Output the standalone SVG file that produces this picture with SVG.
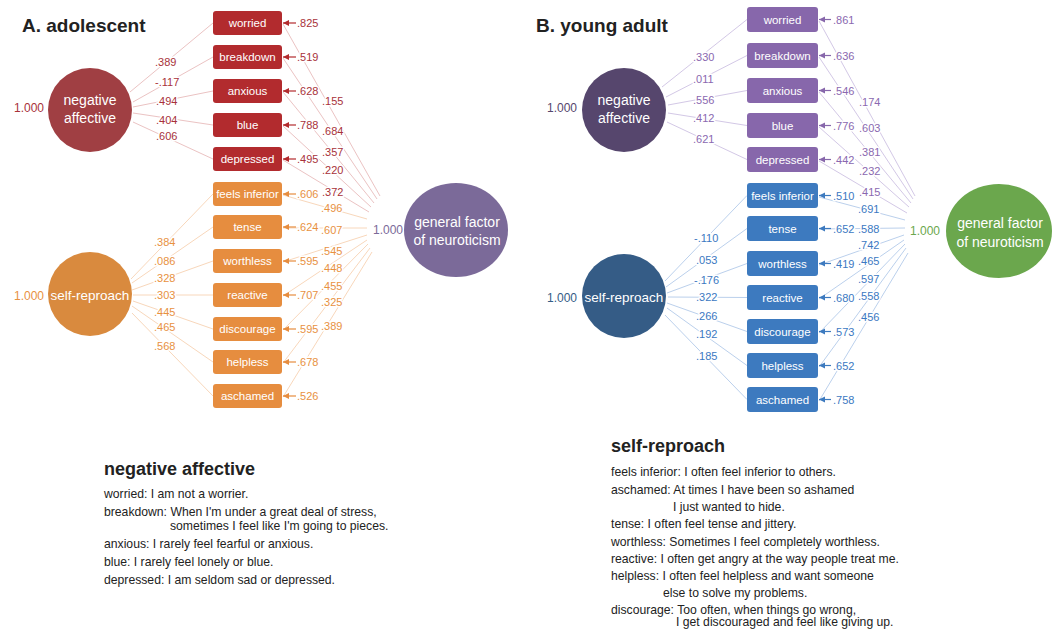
<svg xmlns="http://www.w3.org/2000/svg" width="1059" height="632" viewBox="0 0 1059 632">
<style>
text{font-family:"Liberation Sans",Arial,sans-serif}
.title{font-size:19px;font-weight:bold;fill:#222}
.h{font-size:18px;font-weight:bold;fill:#222}
.d{font-size:12.2px;fill:#222}
.bl{font-size:11.5px;fill:#fff;text-anchor:middle}
.cl{font-size:14px;fill:#fff;text-anchor:middle}
.n{font-size:11px;stroke:#fff;stroke-width:3;paint-order:stroke;stroke-linejoin:round}
.one{font-size:12px}
.lr{stroke:#ebc3c3;stroke-width:1;fill:none}
.lo{stroke:#f8d7bb;stroke-width:1;fill:none}
.lp{stroke:#d3c8e6;stroke-width:1;fill:none}
.lb{stroke:#bbd0ec;stroke-width:1;fill:none}
.ar{stroke:#b22b2e;stroke-width:1.2;marker-end:url(#mr)}
.ao{stroke:#e68d3f;stroke-width:1.2;marker-end:url(#mo)}
.ap{stroke:#8767ab;stroke-width:1.2;marker-end:url(#mp)}
.ab{stroke:#3d7abf;stroke-width:1.2;marker-end:url(#mb)}
.tr{fill:#a8323a}.to{fill:#e8913f}.tp{fill:#8a68b0}.tb{fill:#3b78c2}
.br{fill:#b22b2e}.bo{fill:#e68d3f}.bp{fill:#8767ab}.bb{fill:#3d7abf}
</style>
<defs>
<marker id="mr" markerUnits="userSpaceOnUse" markerWidth="7" markerHeight="7" refX="6" refY="3.5" orient="auto"><path d="M0,0.5 L6,3.5 L0,6.5 Z" fill="#b22b2e"/></marker>
<marker id="mo" markerUnits="userSpaceOnUse" markerWidth="7" markerHeight="7" refX="6" refY="3.5" orient="auto"><path d="M0,0.5 L6,3.5 L0,6.5 Z" fill="#e68d3f"/></marker>
<marker id="mp" markerUnits="userSpaceOnUse" markerWidth="7" markerHeight="7" refX="6" refY="3.5" orient="auto"><path d="M0,0.5 L6,3.5 L0,6.5 Z" fill="#8767ab"/></marker>
<marker id="mb" markerUnits="userSpaceOnUse" markerWidth="7" markerHeight="7" refX="6" refY="3.5" orient="auto"><path d="M0,0.5 L6,3.5 L0,6.5 Z" fill="#3d7abf"/></marker>
</defs>
<rect width="1059" height="632" fill="#fff"/>

<text class="title" x="22" y="32">A. adolescent</text>
<text class="title" x="536" y="32">B. young adult</text>

<!-- connectors -->
<g id="connectors">
<line class="lr" x1="130" y1="92" x2="213" y2="23"/>
<line class="lr" x1="133" y1="102" x2="213" y2="57"/>
<line class="lr" x1="133" y1="107" x2="213" y2="91"/>
<line class="lr" x1="133" y1="113" x2="213" y2="125"/>
<line class="lr" x1="133" y1="122" x2="213" y2="159"/>
<line class="lo" x1="131" y1="279" x2="213" y2="194"/>
<line class="lo" x1="132" y1="283" x2="213" y2="227"/>
<line class="lo" x1="132" y1="290" x2="213" y2="261"/>
<line class="lo" x1="133" y1="295" x2="213" y2="295"/>
<line class="lo" x1="133" y1="301" x2="213" y2="329"/>
<line class="lo" x1="132" y1="306" x2="213" y2="362"/>
<line class="lo" x1="132" y1="313" x2="213" y2="396"/>
<line class="lr" x1="283" y1="24" x2="380" y2="196"/>
<line class="lr" x1="283" y1="58" x2="377" y2="199"/>
<line class="lr" x1="283" y1="92" x2="374" y2="203"/>
<line class="lr" x1="283" y1="126" x2="371" y2="207"/>
<line class="lr" x1="283" y1="160" x2="369" y2="212"/>
<line class="lo" x1="283" y1="195" x2="367" y2="219"/>
<line class="lo" x1="283" y1="228" x2="367" y2="228"/>
<line class="lo" x1="283" y1="262" x2="367" y2="235"/>
<line class="lo" x1="283" y1="296" x2="367" y2="240"/>
<line class="lo" x1="283" y1="330" x2="368" y2="244"/>
<line class="lo" x1="283" y1="363" x2="370" y2="248"/>
<line class="lo" x1="283" y1="397" x2="372" y2="252"/>
<line class="ar" x1="296" y1="23" x2="283" y2="23"/>
<line class="ar" x1="296" y1="57" x2="283" y2="57"/>
<line class="ar" x1="296" y1="91" x2="283" y2="91"/>
<line class="ar" x1="296" y1="125" x2="283" y2="125"/>
<line class="ar" x1="296" y1="159" x2="283" y2="159"/>
<line class="ao" x1="296" y1="194" x2="283" y2="194"/>
<line class="ao" x1="296" y1="227" x2="283" y2="227"/>
<line class="ao" x1="296" y1="261" x2="283" y2="261"/>
<line class="ao" x1="296" y1="295" x2="283" y2="295"/>
<line class="ao" x1="296" y1="329" x2="283" y2="329"/>
<line class="ao" x1="296" y1="362" x2="283" y2="362"/>
<line class="ao" x1="296" y1="396" x2="283" y2="396"/>

<line class="lp" x1="662" y1="87" x2="747" y2="19.5"/>
<line class="lp" x1="666" y1="97" x2="747" y2="55.5"/>
<line class="lp" x1="668" y1="105" x2="747" y2="90.5"/>
<line class="lp" x1="668" y1="113" x2="747" y2="125.5"/>
<line class="lp" x1="667" y1="122" x2="747" y2="159.5"/>
<line class="lb" x1="665" y1="281" x2="747" y2="195.5"/>
<line class="lb" x1="666" y1="287" x2="747" y2="228.5"/>
<line class="lb" x1="667" y1="293" x2="747" y2="263.5"/>
<line class="lb" x1="668" y1="297" x2="747" y2="297.5"/>
<line class="lb" x1="667" y1="303" x2="747" y2="331.5"/>
<line class="lb" x1="667" y1="308" x2="747" y2="365.5"/>
<line class="lb" x1="665" y1="315" x2="747" y2="399.5"/>
<line class="lp" x1="819" y1="21" x2="915" y2="196"/>
<line class="lp" x1="819" y1="57" x2="913" y2="199"/>
<line class="lp" x1="819" y1="92" x2="911" y2="203"/>
<line class="lp" x1="819" y1="127" x2="909" y2="207"/>
<line class="lp" x1="819" y1="161" x2="907" y2="213"/>
<line class="lb" x1="819" y1="197" x2="905" y2="220"/>
<line class="lb" x1="819" y1="229" x2="905" y2="228"/>
<line class="lb" x1="819" y1="265" x2="904" y2="235"/>
<line class="lb" x1="819" y1="299" x2="904" y2="240"/>
<line class="lb" x1="819" y1="333" x2="905" y2="244"/>
<line class="lb" x1="819" y1="367" x2="906" y2="248"/>
<line class="lb" x1="819" y1="401" x2="908" y2="253"/>
<line class="ap" x1="831" y1="19.5" x2="819" y2="19.5"/>
<line class="ap" x1="831" y1="55.5" x2="819" y2="55.5"/>
<line class="ap" x1="831" y1="90.5" x2="819" y2="90.5"/>
<line class="ap" x1="831" y1="125.5" x2="819" y2="125.5"/>
<line class="ap" x1="831" y1="159.5" x2="819" y2="159.5"/>
<line class="ab" x1="831" y1="195.5" x2="819" y2="195.5"/>
<line class="ab" x1="831" y1="228.5" x2="819" y2="228.5"/>
<line class="ab" x1="831" y1="263.5" x2="819" y2="263.5"/>
<line class="ab" x1="831" y1="297.5" x2="819" y2="297.5"/>
<line class="ab" x1="831" y1="331.5" x2="819" y2="331.5"/>
<line class="ab" x1="831" y1="365.5" x2="819" y2="365.5"/>
<line class="ab" x1="831" y1="399.5" x2="819" y2="399.5"/>

<text class="n tr" x="155" y="66">.389</text>
<text class="n tr" x="155" y="86">-.117</text>
<text class="n tr" x="156" y="105">.494</text>
<text class="n tr" x="156" y="124">.404</text>
<text class="n tr" x="156" y="140">.606</text>
<text class="n to" x="154" y="246">.384</text>
<text class="n to" x="154" y="265">.086</text>
<text class="n to" x="154" y="282">.328</text>
<text class="n to" x="154" y="299">.303</text>
<text class="n to" x="154" y="316">.445</text>
<text class="n to" x="154" y="331">.465</text>
<text class="n to" x="154" y="350">.568</text>
<text class="n tr" x="297" y="27">.825</text>
<text class="n tr" x="297" y="61">.519</text>
<text class="n tr" x="297" y="95">.628</text>
<text class="n tr" x="297" y="129">.788</text>
<text class="n tr" x="297" y="163">.495</text>
<text class="n to" x="297" y="198">.606</text>
<text class="n to" x="297" y="231">.624</text>
<text class="n to" x="297" y="265">.595</text>
<text class="n to" x="297" y="299">.707</text>
<text class="n to" x="297" y="333">.595</text>
<text class="n to" x="297" y="366">.678</text>
<text class="n to" x="297" y="400">.526</text>
<text class="n tr" x="322" y="105">.155</text>
<text class="n tr" x="322" y="135">.684</text>
<text class="n tr" x="322" y="156">.357</text>
<text class="n tr" x="322" y="174">.220</text>
<text class="n tr" x="322" y="196">.372</text>
<text class="n to" x="321" y="212">.496</text>
<text class="n to" x="321" y="234">.607</text>
<text class="n to" x="321" y="255">.545</text>
<text class="n to" x="321" y="272">.448</text>
<text class="n to" x="321" y="290">.455</text>
<text class="n to" x="321" y="306">.325</text>
<text class="n to" x="321" y="330">.389</text>

<text class="n tp" x="693" y="61">.330</text>
<text class="n tp" x="693" y="83">.011</text>
<text class="n tp" x="693" y="104">.556</text>
<text class="n tp" x="693" y="122">.412</text>
<text class="n tp" x="693" y="143">.621</text>
<text class="n tb" x="694" y="242">-.110</text>
<text class="n tb" x="696" y="264">.053</text>
<text class="n tb" x="694" y="284">-.176</text>
<text class="n tb" x="696" y="301">.322</text>
<text class="n tb" x="696" y="320">.266</text>
<text class="n tb" x="696" y="338">.192</text>
<text class="n tb" x="696" y="360">.185</text>
<text class="n tp" x="833" y="23.5">.861</text>
<text class="n tp" x="833" y="59.5">.636</text>
<text class="n tp" x="833" y="94.5">.546</text>
<text class="n tp" x="833" y="129.5">.776</text>
<text class="n tp" x="833" y="163.5">.442</text>
<text class="n tb" x="833" y="199.5">.510</text>
<text class="n tb" x="833" y="232.5">.652</text>
<text class="n tb" x="833" y="267.5">.419</text>
<text class="n tb" x="833" y="301.5">.680</text>
<text class="n tb" x="833" y="335.5">.573</text>
<text class="n tb" x="833" y="369.5">.652</text>
<text class="n tb" x="833" y="403.5">.758</text>
<text class="n tp" x="859" y="106">.174</text>
<text class="n tp" x="859" y="132">.603</text>
<text class="n tp" x="859" y="156">.381</text>
<text class="n tp" x="859" y="175">.232</text>
<text class="n tp" x="859" y="196">.415</text>
<text class="n tb" x="858" y="213">.691</text>
<text class="n tb" x="858" y="233">.588</text>
<text class="n tb" x="858" y="249">.742</text>
<text class="n tb" x="858" y="265">.465</text>
<text class="n tb" x="858" y="283">.597</text>
<text class="n tb" x="858" y="300">.558</text>
<text class="n tb" x="858" y="321">.456</text>
</g>

<g id="A-negative-affective">
<circle cx="90" cy="110" r="42" fill="#a03f43"/>
<text class="cl" x="90" y="105">negative</text>
<text class="cl" x="90" y="123">affective</text>
<text class="one tr" x="44" y="112" text-anchor="end">1.000</text>
</g>
<g id="A-self-reproach">
<circle cx="90" cy="294" r="42" fill="#d98a3e"/>
<text class="cl" x="90" y="300" style="font-size:13.5px">self-reproach</text>
<text class="one to" x="44" y="300" text-anchor="end">1.000</text>
</g>
<g id="A-general">
<ellipse cx="456" cy="230" rx="52" ry="47" fill="#7b6a99"/>
<text class="cl" x="457" y="227">general factor</text>
<text class="cl" x="457" y="245">of neuroticism</text>
<text class="one" x="373" y="234" fill="#7b6a99">1.000</text>
</g>

<g id="A-worried"><rect class="br" x="213" y="11" width="69" height="24" rx="3"/><text class="bl" x="247.5" y="27">worried</text></g>
<g id="A-breakdown"><rect class="br" x="213" y="45" width="69" height="24" rx="3"/><text class="bl" x="247.5" y="61">breakdown</text></g>
<g id="A-anxious"><rect class="br" x="213" y="79" width="69" height="24" rx="3"/><text class="bl" x="247.5" y="95">anxious</text></g>
<g id="A-blue"><rect class="br" x="213" y="113" width="69" height="24" rx="3"/><text class="bl" x="247.5" y="129">blue</text></g>
<g id="A-depressed"><rect class="br" x="213" y="147" width="69" height="24" rx="3"/><text class="bl" x="247.5" y="163">depressed</text></g>
<g id="A-feels-inferior"><rect class="bo" x="213" y="182" width="69" height="24" rx="3"/><text class="bl" x="247.5" y="198">feels inferior</text></g>
<g id="A-tense"><rect class="bo" x="213" y="215" width="69" height="24" rx="3"/><text class="bl" x="247.5" y="231">tense</text></g>
<g id="A-worthless"><rect class="bo" x="213" y="249" width="69" height="24" rx="3"/><text class="bl" x="247.5" y="265">worthless</text></g>
<g id="A-reactive"><rect class="bo" x="213" y="283" width="69" height="24" rx="3"/><text class="bl" x="247.5" y="299">reactive</text></g>
<g id="A-discourage"><rect class="bo" x="213" y="317" width="69" height="24" rx="3"/><text class="bl" x="247.5" y="333">discourage</text></g>
<g id="A-helpless"><rect class="bo" x="213" y="350" width="69" height="24" rx="3"/><text class="bl" x="247.5" y="366">helpless</text></g>
<g id="A-aschamed"><rect class="bo" x="213" y="384" width="69" height="24" rx="3"/><text class="bl" x="247.5" y="400">aschamed</text></g>

<g id="B-negative-affective">
<circle cx="624" cy="110" r="42" fill="#56466d"/>
<text class="cl" x="624" y="105">negative</text>
<text class="cl" x="624" y="123">affective</text>
<text class="one" x="577" y="112" text-anchor="end" fill="#56466d">1.000</text>
</g>
<g id="B-self-reproach">
<circle cx="624" cy="296" r="42" fill="#355c86"/>
<text class="cl" x="624" y="302" style="font-size:13.5px">self-reproach</text>
<text class="one" x="577" y="302" text-anchor="end" fill="#355c86">1.000</text>
</g>
<g id="B-general">
<ellipse cx="999" cy="231" rx="53" ry="47" fill="#6ba74d"/>
<text class="cl" x="1000" y="228">general factor</text>
<text class="cl" x="1000" y="247">of neuroticism</text>
<text class="one" x="910" y="235" fill="#6ba74d">1.000</text>
</g>

<g id="B-worried"><rect class="bp" x="747" y="7" width="71" height="25" rx="3"/><text class="bl" x="782.5" y="23.5">worried</text></g>
<g id="B-breakdown"><rect class="bp" x="747" y="43" width="71" height="25" rx="3"/><text class="bl" x="782.5" y="59.5">breakdown</text></g>
<g id="B-anxious"><rect class="bp" x="747" y="78" width="71" height="25" rx="3"/><text class="bl" x="782.5" y="94.5">anxious</text></g>
<g id="B-blue"><rect class="bp" x="747" y="113" width="71" height="25" rx="3"/><text class="bl" x="782.5" y="129.5">blue</text></g>
<g id="B-depressed"><rect class="bp" x="747" y="147" width="71" height="25" rx="3"/><text class="bl" x="782.5" y="163.5">depressed</text></g>
<g id="B-feels-inferior"><rect class="bb" x="747" y="183" width="71" height="25" rx="3"/><text class="bl" x="782.5" y="199.5">feels inferior</text></g>
<g id="B-tense"><rect class="bb" x="747" y="216" width="71" height="25" rx="3"/><text class="bl" x="782.5" y="232.5">tense</text></g>
<g id="B-worthless"><rect class="bb" x="747" y="251" width="71" height="25" rx="3"/><text class="bl" x="782.5" y="267.5">worthless</text></g>
<g id="B-reactive"><rect class="bb" x="747" y="285" width="71" height="25" rx="3"/><text class="bl" x="782.5" y="301.5">reactive</text></g>
<g id="B-discourage"><rect class="bb" x="747" y="319" width="71" height="25" rx="3"/><text class="bl" x="782.5" y="335.5">discourage</text></g>
<g id="B-helpless"><rect class="bb" x="747" y="353" width="71" height="25" rx="3"/><text class="bl" x="782.5" y="369.5">helpless</text></g>
<g id="B-aschamed"><rect class="bb" x="747" y="387" width="71" height="25" rx="3"/><text class="bl" x="782.5" y="403.5">aschamed</text></g>

<g id="legend-negative-affective">
<text class="h" x="104" y="475">negative affective</text>
<text class="d" x="104" y="498">worried: I am not a worrier.</text>
<text class="d" x="104" y="516">breakdown: When I'm under a great deal of stress,</text>
<text class="d" x="170" y="530">sometimes I feel like I'm going to pieces.</text>
<text class="d" x="104" y="548">anxious: I rarely feel fearful or anxious.</text>
<text class="d" x="104" y="566">blue: I rarely feel lonely or blue.</text>
<text class="d" x="104" y="584">depressed: I am seldom sad or depressed.</text>
</g>
<g id="legend-self-reproach">
<text class="h" x="611" y="452">self-reproach</text>
<text class="d" x="611" y="476">feels inferior: I often feel inferior to others.</text>
<text class="d" x="611" y="494">aschamed: At times I have been so ashamed</text>
<text class="d" x="673" y="511">I just wanted to hide.</text>
<text class="d" x="611" y="528">tense: I often feel tense and jittery.</text>
<text class="d" x="611" y="546">worthless: Sometimes I feel completely worthless.</text>
<text class="d" x="611" y="563">reactive: I often get angry at the way people treat me.</text>
<text class="d" x="611" y="580">helpless: I often feel helpless and want someone</text>
<text class="d" x="663" y="597">else to solve my problems.</text>
<text class="d" x="611" y="614">discourage: Too often, when things go wrong,</text>
<text class="d" x="676" y="626">I get discouraged and feel like giving up.</text>
</g>
</svg>
